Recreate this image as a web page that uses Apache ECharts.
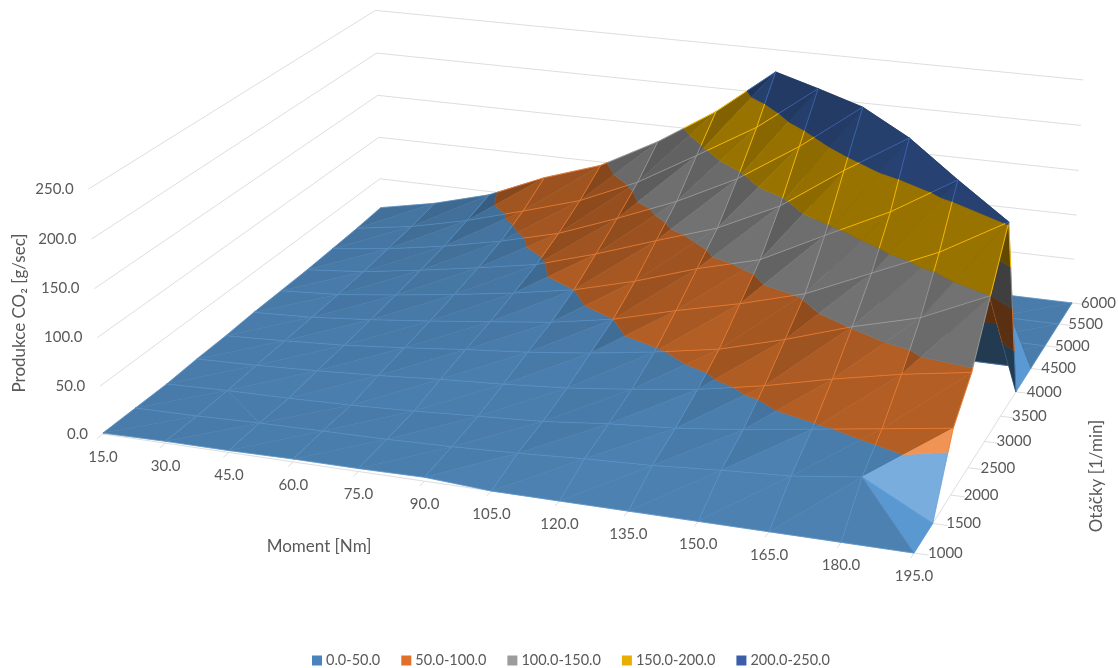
<!DOCTYPE html>
<html>
<head>
<meta charset="utf-8">
<style>html,body{margin:0;padding:0;background:#fff}#chart{width:1118px;height:668px}</style>
<script src="https://cdn.jsdelivr.net/npm/echarts@6/dist/echarts.min.js"></script>
</head>
<body>
<div id="chart"></div>
<script>
// Axis ticks
const torqueTicks = [15, 30, 45, 60, 75, 90, 105, 120, 135, 150, 165, 180, 195];
const rpmTicks = [1000, 1500, 2000, 2500, 3000, 3500, 4000, 4500, 5000, 5500, 6000];
const co2Ticks = [0, 50, 100, 150, 200, 250];

// CO2 production [g/sec] per engine speed, one value for each torque tick
const rpm1000 = [1, 2, 2, 3, 3, 4, 0, 0, 0, 0, 0, 0, 0];
const rpm1500 = [1, 2, 4, 5, 6, 8, 11, 15, 18, 23, 27, 36, 0];
const rpm2000 = [1, 3, 4, 6, 9, 13, 17, 24, 29, 37, 47, 57, 67];
const rpm2500 = [3, 5, 8, 12, 17, 21, 26, 34, 43, 56, 72, 86, 97];
const rpm3000 = [4, 7, 11, 17, 24, 30, 38, 48, 60, 79, 101, 119, 150];
const rpm3500 = [6, 9, 15, 22, 30, 38, 50, 68, 84, 103, 133, 163, 202];
const rpm4000 = [7, 11, 19, 28, 38, 50, 68, 90, 108, 142, 175, 216, 0];
const rpm4500 = [8, 14, 24, 35, 47, 67, 90, 112, 144, 190, 232, 0, 0];
const rpm5000 = [10, 18, 29, 43, 60, 85, 112, 145, 188, 238, 0, 0, 0];
const rpm5500 = [12, 22, 37, 56, 76, 105, 143, 182, 232, 0, 0, 0, 0];
const rpm6000 = [15, 28, 46, 74, 96, 131, 173, 225, 0, 0, 0, 0, 0];
const co2Rows = [rpm1000, rpm1500, rpm2000, rpm2500, rpm3000, rpm3500, rpm4000, rpm4500, rpm5000, rpm5500, rpm6000];

// Value bands of the surface
const bandNames = ['0.0-50.0', '50.0-100.0', '100.0-150.0', '150.0-200.0', '200.0-250.0'];
const bandLimits = [0, 50, 100, 150, 200, 250];
const bandColors = [[91, 155, 213], [237, 125, 49], [165, 165, 165], [255, 192, 0], [68, 114, 196]];
const bandGain = [1.0, 0.95, 0.98, 0.95, 0.88];
const bandCap = [0.83, 0.75, 0.69, 0.6, 0.58];
const meshAlpha = [0.5, 0.8, 0.7, 0.9, 0.7];
const legendColors = ['#4a84bd', '#e0702a', '#9c9c9c', '#e8af00', '#3a5ea8'];

// Perspective camera: homogeneous projection of the unit box (u torque, v speed, t CO2)
const cam = {
  a: 737.6, b: 351.2, p: -16.8, c: 103,
  d: 74.6, e: -171.8, q: -250.1, f: 434,
  g: -0.0803, h: 0.192, r: -0.027
};
const depthOf = (u, v, t) => 1 + cam.g * u + cam.h * v + cam.r * t;
function project(u, v, t) {
  const w = depthOf(u, v, t);
  return [
    (cam.a * u + cam.b * v + cam.p * t + cam.c) / w,
    (cam.d * u + cam.e * v + cam.q * t + cam.f) / w
  ];
}

const map = echarts.number.linearMap;
const uOf = T => map(T, [15, 195], [0, 1]);
const vOf = n => map(n, [1000, 6000], [0, 1]);
const tOf = z => map(z, [0, 250], [0, 1]);

// Screen position of a data point; torque and speed go through the hidden cartesian axes
function toScreen(params, api, T, n, z) {
  const rect = params.coordSys;
  const pt = api.coord([T, n]);
  return project((pt[0] - rect.x) / rect.width, (rect.y + rect.height - pt[1]) / rect.height, tOf(z));
}

// Clip a polygon of [T, n, z] vertices to the band lo..hi
function clipToBand(poly, lo, hi) {
  const cut = (pts, inside, level) => {
    const out = [];
    pts.forEach((p, i) => {
      const q = pts[(i + 1) % pts.length];
      const pIn = inside(p[2]), qIn = inside(q[2]);
      if (pIn) out.push(p);
      if (pIn !== qIn) {
        const s = (level - p[2]) / (q[2] - p[2]);
        out.push([p[0] + s * (q[0] - p[0]), p[1] + s * (q[1] - p[1]), level]);
      }
    });
    return out;
  };
  let res = cut(poly, z => z >= lo, lo);
  if (res.length) res = cut(res, z => z <= hi, hi);
  return res;
}

// Light response of a facet, from its upward normal
function shadeOf(p1, p2, p3) {
  const H = 0.6;
  const s = p => [uOf(p[0]), vOf(p[1]), tOf(p[2]) * H];
  const A = s(p1), B = s(p2), C = s(p3);
  const e1 = [B[0] - A[0], B[1] - A[1], B[2] - A[2]];
  const e2 = [C[0] - A[0], C[1] - A[1], C[2] - A[2]];
  let nx = e1[1] * e2[2] - e1[2] * e2[1];
  let ny = e1[2] * e2[0] - e1[0] * e2[2];
  let nz = e1[0] * e2[1] - e1[1] * e2[0];
  if (nz < 0) { nx = -nx; ny = -ny; nz = -nz; }
  const len = Math.hypot(nx, ny, nz) || 1;
  nx /= len; ny /= len; nz /= len;
  const glint = 0.6 * Math.max(0, nx) * Math.max(0, -ny);
  // Faces turned away from the viewer drop to the dark ambient level
  if (ny > 0.55) return 0.38;
  const side = nx >= 0 ? 0.311 * nx : -0.375 * Math.pow(-nx, 1.5);
  return Math.max(0.38, 0.659 + side - 0.15 * ny + 0.141 * nz + glint);
}
function shadedColor(rgb, f) {
  const c = rgb.map(v => f <= 1 ? v * f : v + (255 - v) * Math.min(1, (f - 1) * 0.9));
  return 'rgb(' + c.map(Math.round).join(',') + ')';
}

// Build surface facets and mesh lines, one list per band, ordered far to near
const allPieces = [];
const vtx = (i, j) => [torqueTicks[i], rpmTicks[j], co2Rows[j][i]];
const depthAt = pts => {
  let s = 0;
  pts.forEach(p => { s += depthOf(uOf(p[0]), vOf(p[1]), tOf(p[2])); });
  return s / pts.length;
};
function addFacet(p1, p2, p3) {
  const f = shadeOf(p1, p2, p3);
  const depth = depthAt([p1, p2, p3]);
  bandNames.forEach((_, b) => {
    const poly = clipToBand([p1, p2, p3], bandLimits[b], bandLimits[b + 1]);
    if (poly.length >= 3) {
      let lit = f;
      if (f !== 0.38) lit = f > 0.92 ? f : Math.min(f * bandGain[b], bandCap[b]);
      allPieces.push({ band: b, kind: 'facet', pts: poly, depth, color: shadedColor(bandColors[b], lit) });
    }
  });
}
function addSegment(p, q) {
  // Lines lie on top of their own facets, except those falling off the ridge behind the surface
  const fallsBehind = q[2] < p[2] - 60;
  const depth = depthAt([p, q]) - (fallsBehind ? 0 : 0.022);
  bandNames.forEach((_, b) => {
    const lo = bandLimits[b], hi = bandLimits[b + 1];
    const zMin = Math.min(p[2], q[2]), zMax = Math.max(p[2], q[2]);
    if (zMax < lo || zMin > hi) return;
    const at = z => (zMax === zMin) ? 0 : (z - p[2]) / (q[2] - p[2]);
    const s0 = Math.max(0, Math.min(at(lo), at(hi)));
    const s1 = Math.min(1, Math.max(at(lo), at(hi)));
    if (zMax === zMin && (zMin === hi && b < bandNames.length - 1)) return;
    const lerp = s => [p[0] + s * (q[0] - p[0]), p[1] + s * (q[1] - p[1]), p[2] + s * (q[2] - p[2])];
    const ends = zMax === zMin ? [p, q] : [lerp(s0), lerp(s1)];
    allPieces.push({ band: b, kind: 'line', pts: ends, depth });
  });
}
for (let j = 0; j < rpmTicks.length - 1; j++) {
  for (let i = 0; i < torqueTicks.length - 1; i++) {
    const a = vtx(i, j), b = vtx(i + 1, j), c = vtx(i + 1, j + 1), d = vtx(i, j + 1);
    if (a[2] + c[2] >= b[2] + d[2]) { addFacet(a, b, c); addFacet(a, c, d); }
    else { addFacet(a, b, d); addFacet(b, c, d); }
  }
}
rpmTicks.forEach((_, j) => torqueTicks.forEach((_, i) => {
  if (i + 1 < torqueTicks.length) addSegment(vtx(i, j), vtx(i + 1, j));
  if (j + 1 < rpmTicks.length) addSegment(vtx(i, j), vtx(i, j + 1));
}));
allPieces.sort((x, y) => y.depth - x.depth);
allPieces.forEach((p, k) => { p.rank = k + 1; });

function renderPiece(pieces, band) {
  return function (params, api) {
    const piece = pieces[api.value(2)];
    const points = piece.pts.map(p => toScreen(params, api, p[0], p[1], p[2]));
    if (piece.kind === 'facet') {
      return {
        type: 'polygon', z2: piece.rank, silent: true,
        shape: { points },
        style: { fill: piece.color, stroke: piece.color, lineWidth: 0.6 }
      };
    }
    const c = bandColors[band];
    return {
      type: 'polyline', z2: piece.rank, silent: true,
      shape: { points },
      style: { fill: null, stroke: 'rgba(' + c.join(',') + ',' + meshAlpha[band] + ')', lineWidth: 1 }
    };
  };
}

const surfaceSeries = bandNames.map((name, b) => {
  const pieces = allPieces.filter(p => p.band === b);
  return {
    type: 'custom', name, coordinateSystem: 'cartesian2d', z: 3, silent: true, clip: false,
    animation: false,
    itemStyle: { color: legendColors[b] },
    encode: { x: 0, y: 1 },
    data: pieces.map((p, k) => [p.pts[0][0], p.pts[0][1], k]),
    renderItem: renderPiece(pieces, b)
  };
});

// Walls, floor edges, ticks and tick labels
const textColor = '#595959';
const frameColor = '#dedede';
const labelFont = { fontFamily: 'Lato', fontSize: 15, fill: textColor };
const T0 = torqueTicks[0], T1 = torqueTicks[torqueTicks.length - 1];
const n0 = rpmTicks[0], n1 = rpmTicks[rpmTicks.length - 1];
const frameItems = [];
co2Ticks.forEach(z => frameItems.push({ kind: 'co2', z }));
torqueTicks.forEach(T => frameItems.push({ kind: 'torque', T }));
rpmTicks.forEach(n => frameItems.push({ kind: 'rpm', n }));
frameItems.push({ kind: 'edges' });

const segment = pts => ({
  type: 'polyline', silent: true, shape: { points: pts },
  style: { fill: null, stroke: frameColor, lineWidth: 1 }
});
const tickLabel = (text, pos, align) => ({
  type: 'text', silent: true, x: pos[0], y: pos[1],
  style: Object.assign({ text, align, verticalAlign: 'middle' }, labelFont)
});

function renderFrame(params, api) {
  const item = frameItems[api.value(2)];
  const children = [];
  if (item.kind === 'co2') {
    const left = toScreen(params, api, T0, n0, item.z);
    if (item.z > 0) {
      children.push(segment([left, toScreen(params, api, T0, n1, item.z), toScreen(params, api, T1, n1, item.z)]));
    }
    children.push(tickLabel(item.z.toFixed(1), [left[0] - 15, left[1]], 'right'));
  } else if (item.kind === 'torque') {
    const foot = toScreen(params, api, item.T, n0, 0);
    const end = toScreen(params, api, item.T, n0 - 90, 0);
    children.push(segment([foot, end]));
    children.push(tickLabel(item.T.toFixed(1), [foot[0], foot[1] + 23], 'center'));
  } else if (item.kind === 'rpm') {
    const foot = toScreen(params, api, T1, item.n, 0);
    const end = toScreen(params, api, T1 + 3, item.n, 0);
    children.push(segment([foot, end]));
    const gap = 14 - 5 * vOf(item.n);
    children.push(tickLabel(String(item.n), [foot[0] + gap, foot[1]], 'left'));
  } else {
    children.push(segment([toScreen(params, api, T0, n0, 0), toScreen(params, api, T1, n0, 0), toScreen(params, api, T1, n1, 0)]));
  }
  return { type: 'group', children };
}

const frameSeries = {
  type: 'custom', name: 'frame', coordinateSystem: 'cartesian2d', z: 1, silent: true, clip: false,
  animation: false,
  encode: { x: 0, y: 1 },
  data: frameItems.map((_, k) => [T0, n0, k]),
  renderItem: renderFrame
};

const axisTitle = (text, x, y, rotation) => ({
  type: 'text', x, y, rotation, silent: true,
  style: {
    text, fontFamily: 'Lato', fontSize: 17, fill: textColor,
    align: 'center', verticalAlign: 'middle'
  }
});

const chart = echarts.init(document.getElementById('chart'), null, { renderer: 'canvas' });
chart.setOption({
  animation: false,
  backgroundColor: '#ffffff',
  grid: { left: 0, right: 0, top: 0, bottom: 0 },
  xAxis: { type: 'value', min: T0, max: T1, show: false },
  yAxis: { type: 'value', min: n0, max: n1, show: false },
  legend: {
    data: bandNames, left: 307, top: 648, itemWidth: 10, itemHeight: 10, itemGap: 21,
    icon: 'rect', selectedMode: false,
    textStyle: { fontFamily: 'Lato', fontSize: 14.5, color: textColor, padding: [0, 0, 0, -1] }
  },
  graphic: [
    axisTitle('Moment [Nm]', 319, 547, 0),
    axisTitle('Produkce CO\u2082 [g/sec]', 20, 313, Math.PI / 2),
    axisTitle('Ot\u00e1\u010dky [1/min]', 1097, 476, Math.PI / 2)
  ],
  series: [frameSeries].concat(surfaceSeries)
});
</script>
</body>
</html>
